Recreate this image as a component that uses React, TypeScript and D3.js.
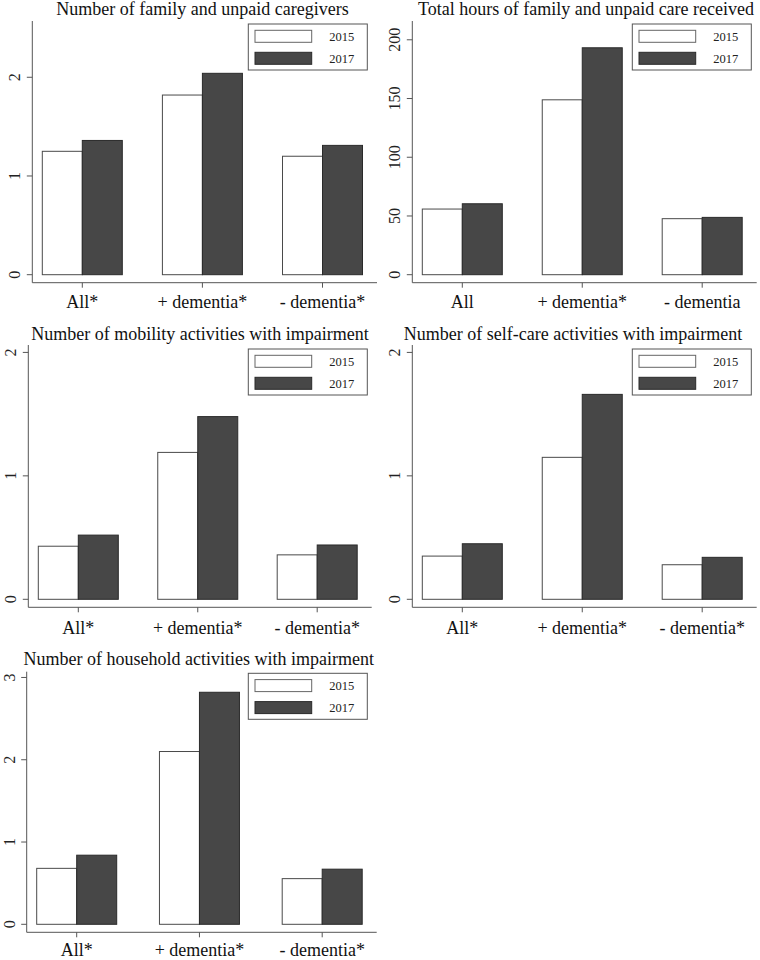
import React from "react";
import * as d3 from "d3";

const years = ["2015", "2017"];

const titles = [
  "Number of family and unpaid caregivers",
  "Total hours of family and unpaid care received",
  "Number of mobility activities with impairment",
  "Number of self-care activities with impairment",
  "Number of household activities with impairment",
];

const categories1 = ["All*", "+ dementia*", "- dementia*"];
const categories2 = ["All", "+ dementia*", "- dementia"];

const caregivers2015 = [1.25, 1.82, 1.2];
const caregivers2017 = [1.36, 2.04, 1.31];

const hours2015 = [55.9, 148.9, 47.7];
const hours2017 = [60.4, 193.2, 48.8];

const mobility2015 = [0.43, 1.19, 0.36];
const mobility2017 = [0.52, 1.48, 0.44];

const selfcare2015 = [0.35, 1.15, 0.28];
const selfcare2017 = [0.45, 1.66, 0.34];

const household2015 = [0.68, 2.1, 0.555];
const household2017 = [0.84, 2.82, 0.67];

const ticks1 = [0, 1, 2];
const ticks2 = [0, 50, 100, 150, 200];
const ticks3 = [0, 1, 2];
const ticks4 = [0, 1, 2];
const ticks5 = [0, 1, 2, 3];

const FONT = "'Liberation Serif', 'Times New Roman', serif";
const DARK = "#474747";
const AXIS = "#555";

type PanelCfg = {
  title: string;
  titleX: number;
  titleY: number;
  cats: string[];
  s2015: number[];
  s2017: number[];
  ticks: number[];
  yMax: number;
  axisX: number;
  xEnd: number;
  yZero: number;
  yTop: number;
  xAxisY: number;
  labelDy: number;
  legendX: number;
  legendY: number;
};

const panels: PanelCfg[] = [
  {
    title: titles[0], titleX: 202.5, titleY: 15,
    cats: categories1, s2015: caregivers2015, s2017: caregivers2017,
    ticks: ticks1, yMax: 2.57,
    axisX: 32.3, xEnd: 377, yZero: 274.7, yTop: 21, xAxisY: 282.7, labelDy: 25.5,
    legendX: 248.3, legendY: 24,
  },
  {
    title: titles[1], titleX: 586, titleY: 15,
    cats: categories2, s2015: hours2015, s2017: hours2017,
    ticks: ticks2, yMax: 216,
    axisX: 412.3, xEnd: 756.7, yZero: 274.7, yTop: 21, xAxisY: 282.7, labelDy: 25.5,
    legendX: 632.3, legendY: 24,
  },
  {
    title: titles[2], titleX: 200, titleY: 340,
    cats: categories1, s2015: mobility2015, s2017: mobility2017,
    ticks: ticks3, yMax: 2.06,
    axisX: 28.3, xEnd: 371.7, yZero: 599.3, yTop: 345, xAxisY: 607.3, labelDy: 27,
    legendX: 248.3, legendY: 349,
  },
  {
    title: titles[3], titleX: 573, titleY: 340,
    cats: categories1, s2015: selfcare2015, s2017: selfcare2017,
    ticks: ticks4, yMax: 2.06,
    axisX: 412.3, xEnd: 756.7, yZero: 599.3, yTop: 345, xAxisY: 607.3, labelDy: 27,
    legendX: 632.3, legendY: 349,
  },
  {
    title: titles[4], titleX: 198.7, titleY: 665,
    cats: categories1, s2015: household2015, s2017: household2017,
    ticks: ticks5, yMax: 3.07,
    axisX: 26.7, xEnd: 376.7, yZero: 924.3, yTop: 671.7, xAxisY: 932.3, labelDy: 23.5,
    legendX: 248.3, legendY: 673.3,
  },
];

function Panel({ p }: { p: PanelCfg }) {
  const y = d3.scaleLinear().domain([0, p.yMax]).range([p.yZero, p.yTop]);
  const x = d3
    .scalePoint<string>()
    .domain(p.cats)
    .range([p.axisX + 50, p.xEnd - 54.5]);
  const inner = d3.scaleBand<string>().domain(years).range([-40, 40]).padding(0);
  const series: Record<string, number[]> = { "2015": p.s2015, "2017": p.s2017 };
  const lw = 119;
  const lh = 46;
  return (
    <g>
      <text
        x={p.titleX}
        y={p.titleY}
        textAnchor="middle"
        fontFamily={FONT}
        fontSize={18}
        fill="#111"
      >
        {p.title}
      </text>
      {p.cats.map((c, i) =>
        years.map((yr) => {
          const v = series[yr][i];
          const bx = (x(c) as number) + (inner(yr) as number);
          return (
            <rect
              key={c + yr}
              x={bx}
              y={y(v)}
              width={inner.bandwidth()}
              height={y(0) - y(v)}
              fill={yr === "2015" ? "#fff" : DARK}
              stroke={yr === "2015" ? "#4a4a4a" : "#2a2a2a"}
              strokeWidth={1}
            />
          );
        })
      )}
      <line x1={p.axisX} x2={p.axisX} y1={p.yTop} y2={p.xAxisY} stroke={AXIS} strokeWidth={1} />
      {p.ticks.map((t) => (
        <g key={t}>
          <line x1={p.axisX - 5.5} x2={p.axisX} y1={y(t)} y2={y(t)} stroke={AXIS} strokeWidth={1} />
          <text
            transform={`translate(${p.axisX - 12},${y(t)}) rotate(-90)`}
            textAnchor="middle"
            fontFamily={FONT}
            fontSize={16}
            fill="#222"
          >
            {t}
          </text>
        </g>
      ))}
      <line x1={p.axisX} x2={p.xEnd} y1={p.xAxisY} y2={p.xAxisY} stroke={AXIS} strokeWidth={1} />
      {p.cats.map((c) => (
        <g key={c}>
          <line
            x1={x(c) as number}
            x2={x(c) as number}
            y1={p.xAxisY}
            y2={p.xAxisY + 5}
            stroke={AXIS}
            strokeWidth={1}
          />
          <text
            x={x(c) as number}
            y={p.xAxisY + p.labelDy}
            textAnchor="middle"
            fontFamily={FONT}
            fontSize={18}
            fill="#111"
          >
            {c}
          </text>
        </g>
      ))}
      <rect x={p.legendX} y={p.legendY} width={lw} height={lh} fill="#fff" stroke={AXIS} strokeWidth={1} />
      {years.map((yr, i) => (
        <g key={yr}>
          <rect
            x={p.legendX + 6.7}
            y={p.legendY + 6.3 + i * 22}
            width={56.7}
            height={12}
            fill={yr === "2015" ? "#fff" : DARK}
            stroke={yr === "2015" ? "#666" : "#2a2a2a"}
            strokeWidth={1}
          />
          <text
            x={p.legendX + 93.4}
            y={p.legendY + 16.5 + i * 22}
            textAnchor="middle"
            fontFamily={FONT}
            fontSize={12.5}
            fill="#222"
          >
            {yr}
          </text>
        </g>
      ))}
    </g>
  );
}

export default function App() {
  return (
    <svg
      width={760}
      height={960}
      style={{ position: "absolute", left: 0, top: 0, background: "#fff" }}
    >
      <rect x={0} y={0} width={760} height={960} fill="#fff" />
      {panels.map((p, i) => (
        <Panel key={i} p={p} />
      ))}
    </svg>
  );
}
